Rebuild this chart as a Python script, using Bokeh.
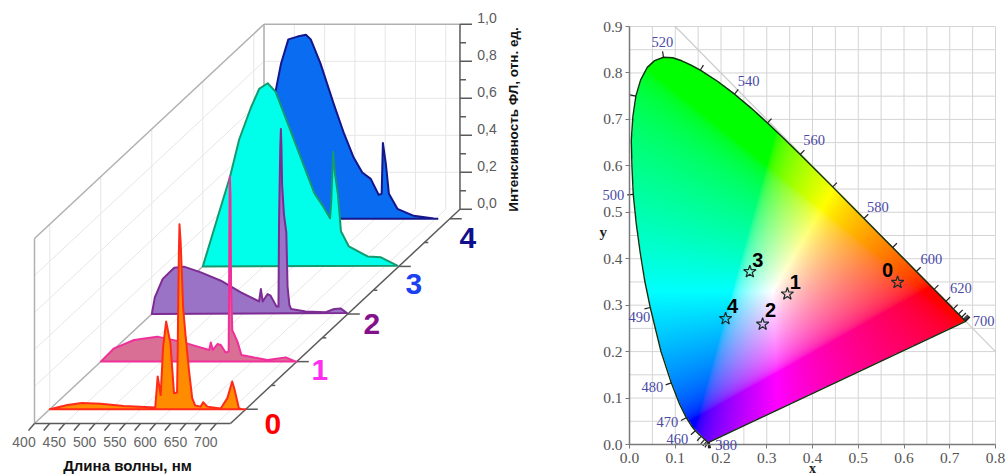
import numpy as np
from bokeh.plotting import figure
from bokeh.layouts import row
from bokeh.embed import file_html
from bokeh.resources import INLINE
from bokeh.core.properties import value
from bokeh.models import ColumnDataSource, LabelSet, FixedTicker, Range1d

# ---------- spectra: (wavelength nm, relative intensity) ----------
s0_wl = [400,429,453,484,522,574,578,583,587,592,599,605,610,611,612,613,614,616,620,624,630,635,640,649,653,660,682,693,701,705,712,717,723]
s0_i  = [0,.023,.034,.029,.018,.009,.177,.077,.339,.474,.357,.086,.09,.3,.6,.85,1.0,.9,.55,.4,.2,.06,.02,.014,.038,.014,.004,.06,.15,.105,.005,0,0]
s1_wl = [400,422,455,493,532,560,579,581.5,585,592.5,598,606,611,611.5,612.5,613,614,615,617,625.5,632,653,675,705,719,723]
s1_i  = [0,.072,.117,.135,.108,.081,.063,.103,.063,.095,.09,.049,.054,.3,.9,1.0,.9,.4,.17,.108,.036,.022,.009,.023,.004,0]
s2_wl = [400,405,418,437,453,481,514,547,577,580,583,591,596,606,609,610,612,613,614,615,618,622,624,627,630,654,687,701,712,722]
s2_i  = [0,.09,.19,.25,.256,.225,.18,.117,.068,.135,.068,.108,.099,.04,.04,.5,.9,1.0,.9,.7,.54,.44,.15,.05,.027,.014,.01,.027,.03,.005]
s3_wl = [400,424,445,460,479,493,507,520,540,562,584,597,610,612,615,618,623,628,641,672,694,721]
s3_i  = [0,.26,.486,.686,.855,.96,.99,.945,.775,.585,.396,.333,.26,.35,.62,.505,.388,.19,.108,.054,.049,.004]
s4_wl = [403,415,425,436,445,457,472,486,494,510,532,549,565,579,593,606,611,613,618,623,637,664,697,703]
s4_i  = [0,.2,.45,.69,.84,.97,.985,.995,.97,.84,.62,.46,.33,.25,.216,.13,.135,.41,.295,.135,.054,.016,.002,0]
series = [(s0_wl, s0_i), (s1_wl, s1_i), (s2_wl, s2_i), (s3_wl, s3_i), (s4_wl, s4_i)]
series_names = ["0", "1", "2", "3", "4"]

wave_major = [400, 450, 500, 550, 600, 650, 700]
wave_minor = [425, 475, 525, 575, 625, 675]
int_major = [0.0, 0.2, 0.4, 0.6, 0.8, 1.0]
int_minor = [0.1, 0.3, 0.5, 0.7, 0.9]
int_labels = ["0,0", "0,2", "0,4", "0,6", "0,8", "1,0"]
z_major = [0, 1, 2, 3, 4]
z_minor = [0.5, 1.5, 2.5, 3.5]

# ---------- chromaticity ----------
loc_wl = [380,385,390,395,400,405,410,415,420,425,430,435,440,445,450,455,460,465,470,475,480,485,490,492.5,495,497.5,500,502.5,505,507.5,510,512.5,515,517.5,520,522.5,525,527.5,530,535,540,545,550,555,560,565,570,575,580,585,590,595,600,605,610,615,620,625,630,635,640,645,650,655,660,665,670,675,680,685,690,695,700]
loc_x = [.1741,.1740,.1738,.1736,.1733,.1730,.1726,.1721,.1714,.1703,.1689,.1669,.1644,.1611,.1566,.1510,.1440,.1355,.1241,.1096,.0913,.0687,.0454,.0334,.0235,.0147,.0082,.0054,.0039,.0074,.0139,.0244,.0389,.0549,.0743,.0940,.1142,.1344,.1547,.1929,.2296,.2658,.3016,.3373,.3731,.4087,.4441,.4788,.5125,.5448,.5752,.6029,.6270,.6482,.6658,.6801,.6915,.7006,.7079,.7140,.7190,.7230,.7260,.7283,.7300,.7311,.7320,.7327,.7334,.7340,.7344,.7346,.7347]
loc_y = [.0050,.0050,.0049,.0049,.0048,.0048,.0048,.0048,.0051,.0058,.0069,.0086,.0109,.0138,.0177,.0227,.0297,.0399,.0578,.0868,.1327,.2007,.2950,.3520,.4127,.4760,.5384,.5980,.6548,.7060,.7502,.7850,.8120,.8265,.8338,.8327,.8262,.8168,.8059,.7816,.7543,.7243,.6923,.6589,.6245,.5896,.5547,.5202,.4866,.4544,.4242,.3965,.3725,.3514,.3340,.3197,.3083,.2993,.2920,.2859,.2809,.2770,.2740,.2717,.2700,.2689,.2680,.2673,.2666,.2660,.2656,.2654,.2653]
wl_labels = [380, 460, 470, 480, 490, 500, 520, 540, 560, 580, 600, 620, 700]
sample_x = [.586, .345, .291, .263, .21]
sample_y = [.349, .324, .259, .372, .271]
sample_names = ["0", "1", "2", "3", "4"]
grid_x = [round(.05 * n, 2) for n in range(17)]
grid_y = [round(.05 * n, 2) for n in range(19)]

# ---------- styles ----------
FILL = ["#ff8c00", "#da6f96", "#9a72c6", "#00ffea", "#0a6cf0"]
EDGE = ["#ff2a1a", "#f0309a", "#7c2c92", "#159a70", "#16168c"]
NUMC = ["#ff0000", "#ff30f0", "#86108c", "#1a40f0", "#10108c"]
NUM_OFF = [(27, 15), (23, 8), (24, 10), (15, 18), (18, 19)]
LBL_OFF = {380:(17,3),460:(-18,8),470:(-19,4),480:(-19,4),490:(-11,10),500:(-20,1),520:(-1,-15),
           540:(14,-13),560:(14,-14),580:(14,-12),600:(15,-12),620:(15,-13),700:(18,0)}
SAMPLE_OFF = [(-10,-12),(8,-12),(8,-14),(8,-12),(7,-13)]
SANS = value("Liberation Sans")
SERIF = value("Liberation Serif")

# ---------- left: oblique 3D projection (figure units are page pixels) ----------
K, H, DX, DY, Z0 = 0.606, 185.0, 51.0, 47.6, -0.3
WL0, WL1, Z1 = 400.0, 723.4, 4.2
def proj(wl, i, z):
    wl, i, z = np.asarray(wl, float), np.asarray(i, float), np.asarray(z, float)
    return 34 + (wl - WL0) * K + (z - Z0) * DX, 423 - i * H - (z - Z0) * DY

left = figure(width=552, height=475, x_range=Range1d(0, 552), y_range=Range1d(475, 0),
              x_axis_type=None, y_axis_type=None, toolbar_location=None, output_backend="svg",
              min_border=0, outline_line_color=None, background_fill_color="white", title_location=None)
left.grid.visible = False

def seg(p0, p1, **kw):
    left.line([float(p0[0]), float(p1[0])], [float(p0[1]), float(p1[1])], **kw)

GL = dict(line_color="#e6e6e6", line_width=1)
for w in wave_major:
    seg(proj(w, 0, Z0), proj(w, 0, Z1), **GL)
    seg(proj(w, 0, Z1), proj(w, 1, Z1), **GL)
for i in int_major[1:-1]:
    seg(proj(WL0, i, Z1), proj(WL1, i, Z1), **GL)
    seg(proj(WL0, i, Z0), proj(WL0, i, Z1), **GL)
for z in z_major:
    seg(proj(WL0, 0, z), proj(WL0, 1, z), **GL)

BOX = dict(line_color="#b0b0b0", line_width=1.5)
seg(proj(WL0, 0, Z0), proj(WL0, 1, Z0), **BOX)
seg(proj(WL0, 1, Z0), proj(WL0, 1, Z1), **BOX)
seg(proj(WL0, 1, Z1), proj(WL1, 1, Z1), **BOX)
seg(proj(WL0, 0, Z1), proj(WL0, 1, Z1), **BOX)
seg(proj(WL0, 0, Z0), proj(WL0, 0, Z1), **BOX)
AX = dict(line_color="#5a5a5a", line_width=1.5)
seg(proj(WL1, 0, Z1), proj(WL1, 1, Z1), **AX)
seg(proj(WL0, 0, Z0), proj(WL1, 0, Z0), **AX)
seg(proj(WL1, 0, Z0), proj(WL1, 0, Z1), **AX)

for w in wave_major + wave_minor:
    x, y = proj(w, 0, Z0)
    seg((x, y), (x - 6, y + 7), **AX)
for i in int_major:
    x, y = proj(WL1, i, Z1)
    seg((x, y), (x + 12, y), **AX)
for i in int_minor:
    x, y = proj(WL1, i, Z1)
    seg((x, y), (x + 6, y), **AX)
for z in z_major:
    x, y = proj(WL1, 0, z)
    seg((x, y), (x + 12, y), **AX)
for z in z_minor:
    x, y = proj(WL1, 0, z)
    seg((x, y), (x + 4, y), **AX)

for k in reversed(range(5)):
    wl, iv = series[k]
    x, y = proj(wl, iv, k)
    left.patch(list(x), list(y), fill_color=FILL[k], line_color=EDGE[k], line_width=2.0, line_join="round")

xt, yt = proj(wave_major, 0, Z0)
left.text([float(v) - 10.5 for v in xt], [441] * len(xt), text=[str(w) for w in wave_major], text_font=SANS,
          text_font_size="14px", text_color="#666666", text_align="center", text_baseline="middle")
xi = [float(proj(WL1, v, Z1)[0]) + 27 for v in int_major]
yi = [float(proj(WL1, v, Z1)[1]) - 6 for v in int_major]
left.text(xi, yi, text=int_labels, text_font=SANS, text_font_size="14px",
          text_color="#5a5a5a", text_align="center", text_baseline="middle")
for k, name in enumerate(series_names):
    x, y = proj(WL1, 0, k)
    left.text([float(x) + NUM_OFF[k][0]], [float(y) + NUM_OFF[k][1]], text=[name], text_font=SANS,
              text_font_style="bold", text_font_size="30px", text_color=NUMC[k],
              text_align="center", text_baseline="middle")
left.text([127], [465], text=["Длина волны, нм"], text_font=SANS, text_font_style="bold",
          text_font_size="15px", text_color="#111111", text_align="center", text_baseline="middle")
left.text([513], [119], text=["Интенсивность ФЛ, отн. ед."], text_font=SANS, text_font_style="bold",
          text_font_size="13.5px", text_color="#111111", text_align="center", text_baseline="middle",
          angle=np.pi / 2)

# ---------- right: CIE 1931 diagram ----------
# The frame fills the figure so that labels may sit outside the 0..0.8 / 0..0.9 box; the axes are pinned to it.
SX, SY = 457.5, 418 / .9
right = figure(width=454, height=475,
               x_range=Range1d(-77 / SX, 377 / SX), y_range=Range1d(-31 / SY, 444 / SY),
               toolbar_location=None, output_backend="svg", outline_line_color=None, min_border=0, title_location=None)
right.grid.visible = False
right.multi_line([[v, v] for v in grid_x], [[0, .9] for v in grid_x], line_color="#d4d4d4", line_width=1)
right.multi_line([[0, .8] for v in grid_y], [[v, v] for v in grid_y], line_color="#d4d4d4", line_width=1)
for ax, ticks, bnd in ((right.xaxis, [round(.1 * n, 1) for n in range(9)], (0, .8)),
                       (right.yaxis, [round(.1 * n, 1) for n in range(10)], (0, .9))):
    ax.ticker = FixedTicker(ticks=ticks)
    ax.bounds = bnd
    ax.fixed_location = 0
    ax.major_tick_out = 4
    ax.major_tick_in = 0
    ax.minor_tick_out = 0
    ax.axis_line_color = "#7a7a7a"
    ax.axis_line_width = 1.5
    ax.major_tick_line_color = "#7a7a7a"
    ax.major_label_text_font = "Liberation Serif"
    ax.major_label_text_font_size = "15.5px"
    ax.major_label_text_color = "#555555"
    ax.major_label_standoff = 4
    ax.major_label_overrides = {0: "0.0"}
right.yaxis.major_label_standoff = 3

right.line([.1, .8], [.9, .2], line_color="#cccccc", line_width=1.2)

# colour field from the chromaticity coordinates
nx, ny = 732, 836
gxv = (np.arange(nx) + .5) / nx * .8
gyv = (np.arange(ny) + .5) / ny * .9
XX, YY = np.meshgrid(gxv, gyv)
ZZ = 1 - XX - YY
M = np.array([[3.2406, -1.5372, -.4986], [-.9689, 1.8758, .0415], [.0557, -.2040, 1.0570]])
XYZ = np.stack([XX / YY, np.ones_like(XX), ZZ / YY], -1)
rgb = np.clip(XYZ @ M.T, 0, None)
rgb = rgb / np.maximum(rgb.max(axis=-1, keepdims=True), 1e-9)
rgb = np.where(rgb <= .0031308, 12.92 * rgb, 1.055 * np.maximum(rgb, 1e-9) ** (1 / 2.4) - .055)
poly_x, poly_y = np.array(loc_x), np.array(loc_y)
inside = np.zeros(XX.shape, bool)
for j in range(len(poly_x)):
    x1, y1, x2, y2 = poly_x[j], poly_y[j], poly_x[j - 1], poly_y[j - 1]
    if y1 == y2:
        continue
    cond = (y1 > YY) != (y2 > YY)
    inside ^= cond & (XX < (x2 - x1) * (YY - y1) / (y2 - y1) + x1)
img = np.zeros((ny, nx), dtype=np.uint32)
view = img.view(dtype=np.uint8).reshape((ny, nx, 4))
view[..., :3] = np.round(rgb * 255).astype(np.uint8)
view[..., 3] = np.where(inside, 255, 0)
right.image_rgba(image=[img], x=0, y=0, dw=.8, dh=.9)

right.patch(loc_x, loc_y, fill_alpha=0, line_color="#10300f", line_width=1.4)

lx, ly = np.array(loc_x), np.array(loc_y)
tick_xs, tick_ys = [], []
for n, w in enumerate(loc_wl):
    if w % 10:
        continue
    a, b = max(n - 1, 0), min(n + 1, len(loc_wl) - 1)
    tx, ty = (lx[b] - lx[a]) * SX, (ly[b] - ly[a]) * SY
    L = np.hypot(tx, ty) or 1
    nx_, ny_ = -ty / L, tx / L          # outward normal of the locus
    tick_xs.append([float(lx[n]), float(lx[n] + nx_ * 6 / SX)])
    tick_ys.append([float(ly[n]), float(ly[n] + ny_ * 6 / SY)])
right.multi_line(tick_xs, tick_ys, line_color="#222222", line_width=1.2)

right.scatter(sample_x, sample_y, marker="star", size=13, fill_alpha=0, line_color="#1c2c2c", line_width=1.2)

idx = [loc_wl.index(w) for w in wl_labels]
src = ColumnDataSource(dict(x=[loc_x[i] for i in idx], y=[loc_y[i] for i in idx], t=[str(w) for w in wl_labels],
                            ox=[LBL_OFF[w][0] for w in wl_labels], oy=[-LBL_OFF[w][1] for w in wl_labels]))
right.add_layout(LabelSet(x="x", y="y", text="t", x_offset="ox", y_offset="oy", source=src,
                          text_font=SERIF, text_font_size="14.5px", text_color="#4a4aa6",
                          text_align="center", text_baseline="middle"))
src2 = ColumnDataSource(dict(x=sample_x, y=sample_y, t=sample_names,
                             ox=[o[0] for o in SAMPLE_OFF], oy=[-o[1] for o in SAMPLE_OFF]))
right.add_layout(LabelSet(x="x", y="y", text="t", x_offset="ox", y_offset="oy", source=src2,
                          text_font=SANS, text_font_style="bold", text_font_size="20px", text_color="#000000",
                          text_align="center", text_baseline="middle"))
right.text([-.0575], [.4565], text=["y"], text_font=SERIF, text_font_style="bold", text_font_size="15px",
           text_color="#222222", text_align="center", text_baseline="middle")
right.text([.4], [-.052], text=["x"], text_font=SERIF, text_font_style="bold", text_font_size="14px",
           text_color="#222222", text_align="center", text_baseline="middle")

page = row(left, right, spacing=0)
open("out.html", "w").write(file_html(page, INLINE))
